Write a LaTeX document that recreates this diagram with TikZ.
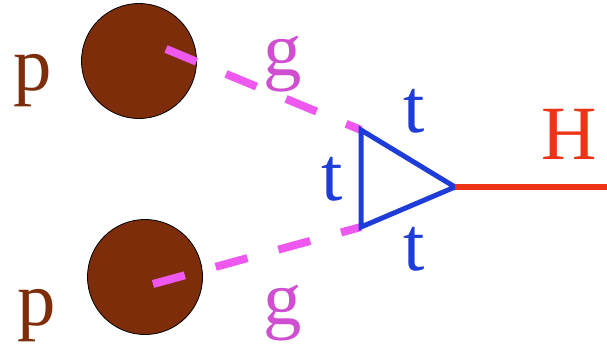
\documentclass[tikz,border=0pt]{standalone}
\usepackage{fontspec}
\setmainfont{Liberation Serif}
\usepackage{tikz}
\definecolor{protonBrown}{RGB}{125,45,10}
\definecolor{gluonPink}{RGB}{238,88,238}
\definecolor{gluonText}{RGB}{208,78,208}
\definecolor{topBlue}{RGB}{30,60,215}
\definecolor{higgsRed}{RGB}{238,52,22}
\tikzset{
  proton/.style={circle, draw=black, line width=0.8bp, fill=protonBrown, minimum size=115bp, inner sep=0pt},
  lbl/.style={anchor=base, inner sep=0pt, font=\fontsize{77}{80}\selectfont},
  plabel/.style={lbl, text=protonBrown},
  glabel/.style={lbl, text=gluonText},
  tlabel/.style={lbl, text=topBlue},
  hlabel/.style={lbl, text=higgsRed},
  gluon/.style={draw=gluonPink, line width=8bp, dash pattern=on 33bp off 32bp},
  topline/.style={draw=topBlue, line width=5bp, line join=miter},
  higgs/.style={draw=higgsRed, line width=6bp}
}

\begin{document}
\begin{tikzpicture}[x=1bp, y=-1bp]
        \useasboundingbox (0,0) rectangle (607,347);
        % protons
        \node[proton] (pu) at (139,61) {};
        \node[proton] (pl) at (145,277) {};
        \node[plabel] (pulab) at (33,90) {p};
        \node[plabel] (pllab) at (37,325) {p};
        % loop corners
        \coordinate (ta) at (361,130);
        \coordinate (tb) at (361,227);
        \coordinate (tc) at (455,187);
        \coordinate (hend) at (607,187);
        \coordinate (gu) at (166,49);
        \coordinate (gl) at (153,284);
        % gluons
        \draw[gluon] (gu) -- (ta);
        \draw[gluon] (gl) -- (tb);
        \node[glabel] (gulab) at (283,75) {g};
        \node[glabel] (gllab) at (283,324) {g};
        % top loop
        \draw[topline] (ta) -- (tc) -- (tb) -- cycle;
        \node[tlabel] (t1) at (414,132) {t};
        \node[tlabel] (t2) at (332,200) {t};
        \node[tlabel] (t3) at (414,270) {t};
        % higgs
        \draw[higgs] (tc) -- (hend);
        \node[hlabel] (hlab) at (569,159) {H};
      \end{tikzpicture}
\end{document}
